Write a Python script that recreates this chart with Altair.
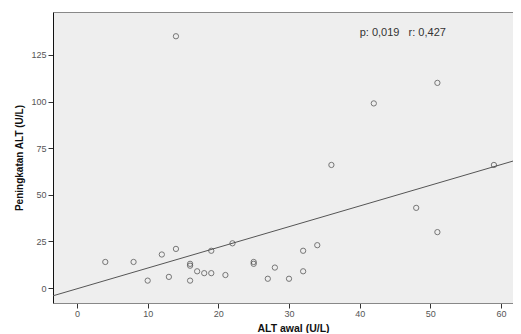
import altair as alt
import pandas as pd

alt_awal = [14, 42, 51, 36, 59, 48, 51, 34, 32, 28, 32, 27, 30, 4, 8, 12, 14, 10, 13,
            16, 16, 17, 18, 19, 19, 22, 21, 25, 25, 16]
peningkatan = [135, 99, 110, 66, 66, 43, 30, 23, 20, 11, 9, 5, 5, 14, 14, 18, 21, 4, 6,
               13, 4, 9, 8, 8, 20, 24, 7, 13, 14, 12]
x_ticks = [0, 10, 20, 30, 40, 50, 60]
y_ticks = [0, 25, 50, 75, 100, 125]
annot_text = ["p: 0,019\u00a0\u00a0\u00a0r: 0,427"]
annot_x = [40]
annot_y = [137]

df = pd.DataFrame({"x": alt_awal, "y": peningkatan})
ann = pd.DataFrame({"x": annot_x, "y": annot_y, "t": annot_text})

xdom = [-3.4, 61.7]
ydom = [-8, 148]

xs = alt.Scale(domain=xdom, nice=False, zero=False)
ys = alt.Scale(domain=ydom, nice=False, zero=False)

xaxis = alt.Axis(values=x_ticks, title="ALT awal (U/L)", grid=False,
                 domainColor="#888888", tickColor="#333333", tickSize=5,
                 labelFont="Liberation Sans", labelFontSize=9, labelColor="#555555",
                 titleFont="Liberation Sans", titleFontSize=10.5, titleFontWeight="bold",
                 titleColor="#111111", titlePadding=5, titleX=240, labelPadding=1)
xaxis_top = alt.Axis(orient="top", title=None, labels=False, ticks=False, grid=False,
                     domainColor="#888888")
yaxis = alt.Axis(values=y_ticks, title="Peningkatan ALT (U/L)", grid=False,
                 domainColor="#111111", tickColor="#333333", tickSize=5,
                 labelFont="Liberation Sans", labelFontSize=9, labelColor="#555555",
                 titleFont="Liberation Sans", titleFontSize=10, titleFontWeight="bold",
                 titleColor="#111111", titlePadding=6, labelPadding=2)

points = alt.Chart(df).mark_point(shape="circle", filled=False, size=28,
                                  stroke="#444444", strokeWidth=1).encode(
    x=alt.X("x:Q", scale=xs, axis=xaxis),
    y=alt.Y("y:Q", scale=ys, axis=yaxis),
)

fit = alt.Chart(df).transform_regression("x", "y", extent=xdom).mark_line(
    color="#555555", strokeWidth=1, clip=True).encode(
    x=alt.X("x:Q", scale=xs, axis=xaxis_top),
    y=alt.Y("y:Q", scale=ys),
)

text = alt.Chart(ann).mark_text(align="left", baseline="middle", font="Liberation Sans",
                                fontSize=11, color="#333333").encode(
    x=alt.X("x:Q", scale=xs, axis=None),
    y=alt.Y("y:Q", scale=ys),
    text="t:N",
)

chart = alt.layer(fit, points, text).resolve_axis(x="independent").properties(
    width=460, height=291,
    autosize=alt.AutoSizeParams(type="none"),
    padding={"left": 45, "top": 4, "right": 0, "bottom": 30},
    view=alt.ViewBackground(fill="#eeeeee", strokeWidth=0),
).configure_view(fill="#eeeeee", strokeWidth=0).configure(background="white")

chart.save("out.html", embed_options={"renderer": "svg", "actions": False})
